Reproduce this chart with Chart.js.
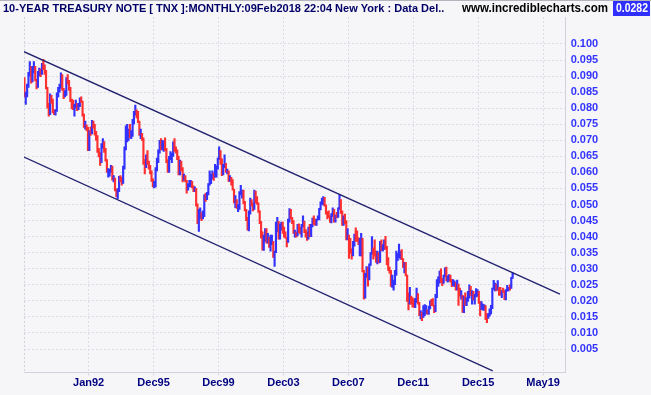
<!DOCTYPE html>
<html>
<head>
<meta charset="utf-8">
<script src="https://cdn.jsdelivr.net/npm/chart.js@4.4.1/dist/chart.umd.min.js"></script>
<style>
  html, body { margin: 0; padding: 0; background: #f6f6f9; }
  #wrap { width: 651px; height: 395px; }
</style>
</head>
<body>
<div id="wrap"><canvas id="tnx" width="651" height="395"></canvas></div>
<script>
// monthly bars, bar 0 = Jan 1988 ... bar 361 = Feb 2018, yields in percent
var opens = [
  8.83,8.38,8.42,8.68,9.07,9.27,8.84,9.18,9.26,8.87,8.68,9.09, // 1988
  9.14,9.08,9.34,9.26,9.10,8.63,8.07,7.83,8.37,8.25,7.91,7.83,
  7.93,8.43,8.53,8.64,9.01,8.60,8.42,8.43,8.92,8.83,8.63,8.25, // 1990
  8.07,8.04,8.06,8.07,8.01,8.08,8.26,8.20,7.81,7.45,7.46,7.38,
  6.70,7.27,7.25,7.54,7.46,7.20,7.12,6.68,6.59,6.35,6.79,6.94,
  6.70,6.39,6.03,6.03,6.06,6.17,5.79,5.80,5.45,5.38,5.43,5.82,
  5.79,5.66,6.15,6.74,7.04,7.15,7.32,7.11,7.17,7.60,7.81,7.91,
  7.82,7.58,7.20,7.20,7.06,6.28,6.20,6.43,6.28,6.17,6.02,5.74, // 1995
  5.57,5.58,6.10,6.33,6.66,6.85,6.73,6.80,6.94,6.70,6.34,6.04,
  6.42,6.49,6.55,6.90,6.72,6.66,6.50,5.95,6.34,6.10,5.83,5.87,
  5.74,5.51,5.62,5.65,5.67,5.55,5.45,5.49,5.00,4.42,4.61,4.71,
  4.65,4.65,5.29,5.24,5.35,5.62,5.78,5.90,5.97,5.88,6.02,6.19,
  6.44,6.68,6.41,6.00,6.21,6.27,6.03,6.03,5.73,5.80,5.75,5.47, // 2000
  5.11,5.11,4.90,4.92,5.34,5.38,5.41,5.05,4.83,4.59,4.23,4.75,
  5.05,5.03,4.86,5.40,5.08,5.04,4.80,4.46,4.14,3.60,3.89,4.21,
  3.82,3.96,3.69,3.80,3.84,3.37,3.52,4.41,4.46,3.94,4.30,4.33,
  4.25,4.13,3.97,3.84,4.51,4.65,4.58,4.48,4.12,4.12,4.03,4.35,
  4.22,4.13,4.36,4.48,4.20,4.00,3.94,4.28,4.02,4.33,4.56,4.49, // 2005
  4.39,4.53,4.55,4.85,5.05,5.12,5.14,4.98,4.73,4.63,4.60,4.46,
  4.70,4.83,4.56,4.64,4.63,4.89,5.03,4.74,4.53,4.58,4.47,3.94,
  4.03,3.59,3.51,3.41,3.73,4.06,3.97,3.95,3.81,3.83,3.95,2.92,
  2.21,2.84,3.01,2.67,3.12,3.46,3.53,3.48,3.40,3.31,3.38,3.20,
  3.84,3.60,3.61,3.84,3.65,3.29,2.95,2.91,2.47,2.51,2.60,2.80, // 2010
  3.29,3.37,3.42,3.45,3.29,3.05,3.16,2.80,2.22,1.92,2.11,2.07,
  1.88,1.80,1.97,2.21,1.91,1.56,1.64,1.49,1.55,1.63,1.69,1.61,
  1.76,1.99,1.88,1.85,1.67,2.13,2.49,2.60,2.78,2.61,2.55,2.75,
  3.03,2.65,2.65,2.72,2.65,2.48,2.53,2.56,2.35,2.49,2.34,2.16,
  2.17,1.64,1.99,1.92,2.03,2.12,2.35,2.18,2.21,2.04,2.14,2.21, // 2015
  2.27,1.92,1.74,1.77,1.83,1.85,1.47,1.46,1.58,1.59,1.83,2.37,
  2.44,2.45,2.39,2.39,2.28,2.20,2.30,2.29,2.12,2.33,2.38,2.41,
  2.40,2.72
];
var highs = [
  8.95,8.50,8.75,9.12,9.45,9.30,9.30,9.45,9.30,8.90,9.15,9.25,
  9.22,9.40,9.52,9.35,9.18,8.65,8.15,8.45,8.40,8.28,7.95,7.96,
  8.48,8.65,8.75,9.10,9.05,8.62,8.55,8.95,9.05,8.87,8.65,8.28,
  8.25,8.12,8.25,8.15,8.15,8.32,8.35,8.22,7.82,7.60,7.48,7.40,
  7.30,7.42,7.62,7.60,7.50,7.28,7.15,6.75,6.62,6.90,7.05,6.96,
  6.75,6.40,6.12,6.10,6.22,6.20,5.90,5.82,5.48,5.50,5.88,5.90,
  5.85,6.20,6.80,7.45,7.50,7.35,7.50,7.30,7.65,7.90,8.10,7.95,
  7.90,7.60,7.35,7.22,7.08,6.40,6.55,6.68,6.35,6.22,6.05,5.80,
  5.72,6.15,6.45,6.70,7.00,7.05,7.00,6.98,7.08,6.75,6.40,6.50,
  6.65,6.60,6.95,7.05,6.80,6.70,6.50,6.38,6.35,6.15,5.95,5.90,
  5.75,5.65,5.75,5.75,5.72,5.58,5.55,5.50,5.02,4.85,4.90,4.75,
  4.80,5.30,5.35,5.38,5.65,6.05,5.95,6.05,5.98,6.25,6.20,6.45,
  6.80,6.68,6.42,6.25,6.55,6.28,6.10,6.05,5.90,5.85,5.78,5.48,
  5.28,5.15,5.00,5.40,5.60,5.45,5.45,5.10,4.85,4.60,4.80,5.20,
  5.15,5.05,5.45,5.42,5.25,5.05,4.80,4.48,4.15,4.05,4.25,4.25,
  4.10,3.98,4.05,4.05,3.85,3.55,4.45,4.60,4.48,4.40,4.45,4.45,
  4.30,4.15,3.98,4.55,4.87,4.85,4.60,4.50,4.20,4.15,4.38,4.40,
  4.30,4.38,4.65,4.48,4.22,4.15,4.30,4.38,4.38,4.58,4.65,4.55,
  4.55,4.65,4.88,5.08,5.20,5.25,5.22,4.99,4.78,4.80,4.65,4.72,
  4.90,4.85,4.68,4.76,4.90,5.32,5.15,4.80,4.65,4.70,4.50,4.25,
  4.05,3.95,3.62,3.85,4.08,4.27,4.18,3.97,3.95,4.10,3.95,2.95,
  2.86,3.07,3.05,3.15,3.50,4.00,3.65,3.90,3.55,3.55,3.50,3.85,
  3.90,3.75,3.90,4.01,3.70,3.35,3.05,2.95,2.80,2.65,2.95,3.55,
  3.48,3.77,3.55,3.60,3.32,3.20,3.20,2.80,2.25,2.42,2.15,2.10,
  2.05,2.08,2.40,2.23,1.95,1.70,1.65,1.85,1.88,1.85,1.72,1.84,
  2.00,2.05,2.07,1.86,2.20,2.66,2.75,2.93,3.00,2.70,2.80,3.03,
  3.05,2.78,2.82,2.80,2.67,2.66,2.62,2.56,2.65,2.52,2.40,2.32,
  2.17,2.15,2.25,2.10,2.30,2.50,2.45,2.32,2.30,2.20,2.38,2.35,
  2.30,1.98,1.98,1.90,1.88,1.85,1.60,1.60,1.75,1.86,2.40,2.64,
  2.55,2.52,2.63,2.42,2.42,2.32,2.40,2.32,2.35,2.48,2.42,2.50,
  2.73,2.88
];
var lows = [
  8.35,8.12,8.35,8.65,9.00,8.78,8.82,9.10,8.85,8.60,8.65,9.00,
  8.98,9.05,9.20,9.05,8.60,8.00,7.75,7.80,8.15,7.85,7.80,7.78,
  7.90,8.35,8.50,8.62,8.55,8.30,8.35,8.40,8.75,8.55,8.20,7.98,
  7.95,7.75,8.00,7.92,7.95,8.05,8.18,7.75,7.40,7.35,7.30,6.68,
  6.68,7.15,7.20,7.38,7.16,7.00,6.62,6.48,6.22,6.30,6.75,6.62,
  6.35,6.00,5.85,5.88,6.00,5.76,5.70,5.42,5.24,5.18,5.40,5.70,
  5.60,5.66,6.10,6.70,6.95,7.00,7.08,7.05,7.12,7.50,7.78,7.70,
  7.55,7.15,7.05,7.00,6.25,5.95,6.15,6.25,6.10,5.95,5.72,5.55,
  5.52,5.55,6.05,6.30,6.60,6.70,6.70,6.65,6.68,6.30,6.00,6.00,
  6.40,6.30,6.50,6.65,6.60,6.40,5.92,5.92,6.05,5.70,5.75,5.70,
  5.35,5.45,5.55,5.55,5.52,5.40,5.40,4.95,4.40,4.16,4.55,4.50,
  4.55,4.62,5.10,5.15,5.30,5.60,5.65,5.80,5.75,5.85,5.85,6.10,
  6.40,6.25,5.90,5.92,6.15,6.00,5.95,5.72,5.72,5.60,5.45,5.05,
  4.90,4.88,4.78,4.85,5.30,5.20,5.02,4.80,4.50,4.20,4.18,4.70,
  4.95,4.80,4.85,5.05,5.00,4.75,4.40,3.95,3.58,3.57,3.85,3.80,
  3.80,3.66,3.55,3.75,3.35,3.07,3.50,4.15,3.92,3.92,4.20,4.10,
  3.98,3.95,3.68,3.82,4.45,4.55,4.40,4.10,3.98,3.98,4.02,4.12,
  4.08,3.98,4.30,4.12,3.98,3.88,3.92,4.00,4.00,4.30,4.38,4.35,
  4.35,4.52,4.52,4.83,5.00,4.98,4.95,4.70,4.55,4.60,4.44,4.43,
  4.63,4.45,4.45,4.58,4.60,4.85,4.72,4.35,4.35,4.40,3.90,3.90,
  3.32,3.48,3.30,3.40,3.70,3.85,3.85,3.75,3.40,3.40,2.90,2.05,
  2.08,2.73,2.46,2.65,3.10,3.45,3.30,3.40,3.20,3.15,3.18,3.20,
  3.56,3.55,3.60,3.60,3.12,2.95,2.86,2.45,2.42,2.33,2.50,2.80,
  3.25,3.35,3.30,3.28,3.04,2.87,2.78,1.98,1.72,1.90,1.90,1.80,
  1.80,1.79,1.95,1.90,1.54,1.44,1.38,1.48,1.54,1.60,1.58,1.58,
  1.75,1.85,1.84,1.63,1.66,2.10,2.45,2.55,2.57,2.47,2.55,2.75,
  2.62,2.58,2.62,2.58,2.44,2.47,2.44,2.33,2.34,1.86,2.15,2.05,
  1.64,1.63,1.86,1.85,1.98,2.08,2.16,1.90,2.03,1.90,2.12,2.14,
  1.92,1.53,1.73,1.71,1.70,1.41,1.32,1.45,1.52,1.59,1.76,2.36,
  2.31,2.31,2.33,2.17,2.18,2.10,2.26,2.04,2.03,2.30,2.31,2.33,
  2.39,2.70
];
var closes = [
  8.38,8.42,8.68,9.07,9.27,8.84,9.18,9.26,8.87,8.68,9.09,9.14,
  9.08,9.34,9.26,9.10,8.63,8.07,7.83,8.37,8.25,7.91,7.83,7.93,
  8.43,8.53,8.64,9.01,8.60,8.42,8.43,8.92,8.83,8.63,8.25,8.07,
  8.04,8.06,8.07,8.01,8.08,8.26,8.20,7.81,7.45,7.46,7.38,6.70,
  7.27,7.25,7.54,7.46,7.20,7.12,6.68,6.59,6.35,6.79,6.94,6.70,
  6.39,6.03,6.03,6.06,6.17,5.79,5.80,5.45,5.38,5.43,5.82,5.79,
  5.66,6.15,6.74,7.04,7.15,7.32,7.11,7.17,7.60,7.81,7.91,7.82,
  7.58,7.20,7.20,7.06,6.28,6.20,6.43,6.28,6.17,6.02,5.74,5.57,
  5.58,6.10,6.33,6.66,6.85,6.73,6.80,6.94,6.70,6.34,6.04,6.42,
  6.49,6.55,6.90,6.72,6.66,6.50,5.95,6.34,6.10,5.83,5.87,5.74,
  5.51,5.62,5.65,5.67,5.55,5.45,5.49,5.00,4.42,4.61,4.71,4.65,
  4.65,5.29,5.24,5.35,5.62,5.78,5.90,5.97,5.88,6.02,6.19,6.44,
  6.68,6.41,6.00,6.21,6.27,6.03,6.03,5.73,5.80,5.75,5.47,5.11,
  5.11,4.90,4.92,5.34,5.38,5.41,5.05,4.83,4.59,4.23,4.75,5.05,
  5.03,4.86,5.40,5.08,5.04,4.80,4.46,4.14,3.60,3.89,4.21,3.82,
  3.96,3.69,3.80,3.84,3.37,3.52,4.41,4.46,3.94,4.30,4.33,4.25,
  4.13,3.97,3.84,4.51,4.65,4.58,4.48,4.12,4.12,4.03,4.35,4.22,
  4.13,4.36,4.48,4.20,4.00,3.94,4.28,4.02,4.33,4.56,4.49,4.39,
  4.53,4.55,4.85,5.05,5.12,5.14,4.98,4.73,4.63,4.60,4.46,4.70,
  4.83,4.56,4.64,4.63,4.89,5.03,4.74,4.53,4.58,4.47,3.94,4.03,
  3.59,3.51,3.41,3.73,4.06,3.97,3.95,3.81,3.83,3.95,2.92,2.21,
  2.84,3.01,2.67,3.12,3.46,3.53,3.48,3.40,3.31,3.38,3.20,3.84,
  3.60,3.61,3.84,3.65,3.29,2.95,2.91,2.47,2.51,2.60,2.80,3.29,
  3.37,3.42,3.45,3.29,3.05,3.16,2.80,2.22,1.92,2.11,2.07,1.88,
  1.80,1.97,2.21,1.91,1.56,1.64,1.49,1.55,1.63,1.69,1.61,1.76,
  1.99,1.88,1.85,1.67,2.13,2.49,2.60,2.78,2.61,2.55,2.75,3.03,
  2.65,2.65,2.72,2.65,2.48,2.53,2.56,2.35,2.49,2.34,2.16,2.17,
  1.64,1.99,1.92,2.03,2.12,2.35,2.18,2.21,2.04,2.14,2.21,2.27,
  1.92,1.74,1.77,1.83,1.85,1.47,1.46,1.58,1.59,1.83,2.37,2.44,
  2.45,2.39,2.39,2.28,2.20,2.30,2.29,2.12,2.33,2.38,2.41,2.40,
  2.72,2.82
];

// x axis: bar index; grid/labels every 48 bars
var xTickValues = [47.5, 95.5, 143.5, 191.5, 239.5, 287.5, 335.5, 383.5];
var xTickLabels = ['Jan92', 'Dec95', 'Dec99', 'Dec03', 'Dec07', 'Dec11', 'Dec15', 'May19'];
var yTickValues = [0.005, 0.010, 0.015, 0.020, 0.025, 0.030, 0.035, 0.040, 0.045, 0.050,
                   0.055, 0.060, 0.065, 0.070, 0.075, 0.080, 0.085, 0.090, 0.095, 0.100];

// trend channel (bar index, yield)
var upperChannel = [{x: -0.3, y: 0.0976}, {x: 396.0, y: 0.0221}];
var lowerChannel = [{x: -0.3, y: 0.0648}, {x: 346.3, y: -0.0018}];

var titleText = '10-YEAR TREASURY NOTE [ TNX ]:MONTHLY:09Feb2018 22:04 New York : Data Del..';
var siteText = 'www.incrediblecharts.com';
var lastValue = '0.0282';

var UP = '#3333ff', DOWN = '#ff3030', GRID = '#dcdce6';

var ranges = [], barColors = [];
for (var i = 0; i < closes.length; i++) {
  ranges.push({x: i, y: [lows[i] / 100, highs[i] / 100]});
  barColors.push(closes[i] >= opens[i] ? UP : DOWN);
}

Chart.defaults.font.family = "'Liberation Sans', Arial, sans-serif";

// squeeze text into a given width
function fitText(ctx, text, x, y, w) {
  var m = ctx.measureText(text).width;
  ctx.save();
  ctx.translate(x, y);
  ctx.scale(Math.min(1, w / m), 1);
  ctx.fillText(text, 0, 0);
  ctx.restore();
}

var backdrop = {
  id: 'backdrop',
  beforeDraw: function(chart) {
    var ctx = chart.ctx, a = chart.chartArea;
    ctx.save();
    ctx.fillStyle = '#f6f6f9';
    ctx.fillRect(0, 0, chart.width, chart.height);
    ctx.fillStyle = '#b4b4bc';
    ctx.fillRect(0, 0, chart.width, 1);
    ctx.strokeStyle = '#d2d2dc';
    ctx.setLineDash([2, 2]);
    ctx.beginPath();
    ctx.moveTo(a.left + 0.5, a.top);
    ctx.lineTo(a.left + 0.5, a.bottom);
    ctx.stroke();
    ctx.restore();
  },
  afterDraw: function(chart) {
    var ctx = chart.ctx;
    ctx.save();
    ctx.textBaseline = 'middle';
    ctx.font = "bold 11px 'Liberation Sans', Arial, sans-serif";
    ctx.fillStyle = '#000066';
    fitText(ctx, titleText, 3, 9, 443);
    ctx.fillStyle = '#000000';
    ctx.font = "bold 12px 'Liberation Sans', Arial, sans-serif";
    fitText(ctx, siteText, 462, 9, 146);
    ctx.fillStyle = '#2f2fff';
    ctx.fillRect(613, 1, 37, 15);
    ctx.fillStyle = '#ffffff';
    fitText(ctx, lastValue, 616, 9, 32);
    ctx.restore();
  }
};

// open / close ticks on each bar
var ohlcTicks = {
  id: 'ohlcTicks',
  afterDatasetsDraw: function(chart) {
    var xs = chart.scales.x, ys = chart.scales.y, ctx = chart.ctx, a = chart.chartArea;
    ctx.save();
    ctx.beginPath();
    ctx.rect(a.left, a.top, a.right - a.left, a.bottom - a.top);
    ctx.clip();
    ctx.lineWidth = 1;
    for (var i = 0; i < closes.length; i++) {
      var px = xs.getPixelForValue(i);
      var yo = ys.getPixelForValue(opens[i] / 100);
      var yc = ys.getPixelForValue(closes[i] / 100);
      ctx.strokeStyle = barColors[i];
      ctx.beginPath();
      ctx.moveTo(px - 1.3, yo); ctx.lineTo(px, yo);
      ctx.moveTo(px, yc); ctx.lineTo(px + 1.3, yc);
      ctx.stroke();
    }
    ctx.restore();
  }
};

new Chart(document.getElementById('tnx'), {
  type: 'bar',
  data: {
    datasets: [{
      type: 'line',
      data: upperChannel,
      borderColor: '#22226e',
      borderWidth: 1.3,
      pointRadius: 0
    }, {
      type: 'line',
      data: lowerChannel,
      borderColor: '#22226e',
      borderWidth: 1.3,
      pointRadius: 0
    }, {
      type: 'bar',
      data: ranges,
      backgroundColor: barColors,
      borderWidth: 0,
      barThickness: 1.5,
      grouped: false
    }]
  },
  options: {
    responsive: false,
    animation: false,
    layout: { padding: { top: 17, left: 24, right: 0, bottom: 0 } },
    plugins: { legend: { display: false }, tooltip: { enabled: false } },
    scales: {
      x: {
        type: 'linear',
        offset: false,
        min: -0.3,
        max: 400.25,
        afterBuildTicks: function(s) {
          s.ticks = xTickValues.map(function(v) { return {value: v}; });
        },
        afterFit: function(s) { s.height = 22.3; },
        ticks: {
          autoSkip: false,
          maxRotation: 0,
          padding: 1,
          color: '#000080',
          font: { size: 11, weight: 'bold' },
          callback: function(v, idx) { return xTickLabels[idx]; }
        },
        grid: { color: GRID, tickLength: 3, tickColor: GRID, offset: false },
        border: { display: true, color: '#d2d2dc', dash: [2, 2] }
      },
      y: {
        position: 'right',
        min: -0.00238,
        max: 0.1084,
        afterBuildTicks: function(s) {
          s.ticks = yTickValues.map(function(v) { return {value: v}; });
        },
        afterFit: function(s) { s.width = 85.3; },
        ticks: {
          padding: 5,
          color: '#3333ff',
          font: { size: 11, weight: 'bold' },
          callback: function(v) { return v.toFixed(3); }
        },
        grid: { color: GRID, drawTicks: false },
        border: { display: true, color: '#d2d2dc', dash: [2, 2] }
      }
    }
  },
  plugins: [backdrop, ohlcTicks]
});
</script>
</body>
</html>
